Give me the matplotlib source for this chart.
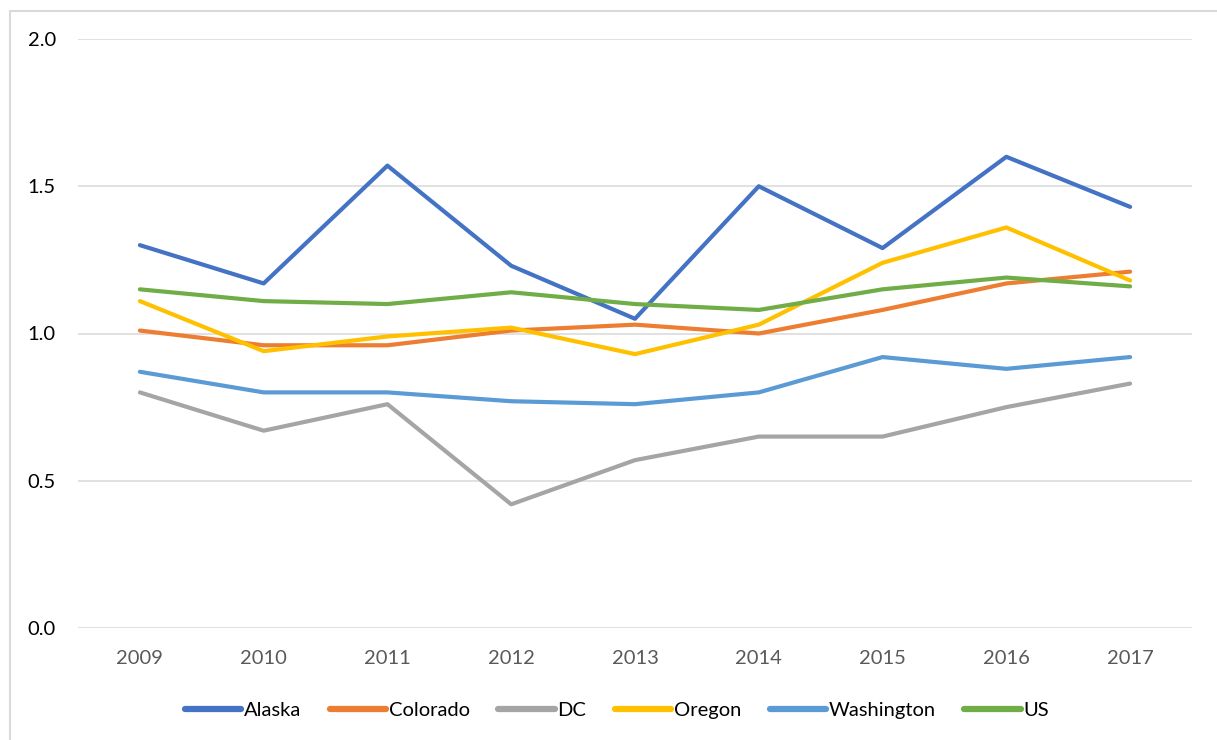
from matplotlib import pyplot as plt
from matplotlib.patches import Rectangle

years = ['2009', '2010', '2011', '2012', '2013', '2014', '2015', '2016', '2017']

alaska = [1.30, 1.17, 1.57, 1.23, 1.05, 1.50, 1.29, 1.60, 1.43]
colorado = [1.01, 0.96, 0.96, 1.01, 1.03, 1.00, 1.08, 1.17, 1.21]
dc = [0.80, 0.67, 0.76, 0.42, 0.57, 0.65, 0.65, 0.75, 0.83]
oregon = [1.11, 0.94, 0.99, 1.02, 0.93, 1.03, 1.24, 1.36, 1.18]
washington = [0.87, 0.80, 0.80, 0.77, 0.76, 0.80, 0.92, 0.88, 0.92]
us = [1.15, 1.11, 1.10, 1.14, 1.10, 1.08, 1.15, 1.19, 1.16]

series = [
    ('Alaska', alaska, '#4472C4'),
    ('Colorado', colorado, '#ED7D31'),
    ('DC', dc, '#A5A5A5'),
    ('Oregon', oregon, '#FFC000'),
    ('Washington', washington, '#5B9BD5'),
    ('US', us, '#70AD47'),
]

plt.rcParams['font.family'] = ['Lato', 'DejaVu Sans']

W, H = 1217, 740
fig = plt.figure(figsize=[W / 100, H / 100], dpi=100)

# chart area border (runs off the right and bottom edges)
fig.patches.append(Rectangle((10 / W, -0.05), 1.1, 1 - 11 / H + 0.05,
                             transform=fig.transFigure, fill=False,
                             edgecolor='#D9D9D9', linewidth=1.5))

ax = fig.add_axes([78 / W, 1 - 628 / H, (1192 - 78) / W, (628 - 39) / H])

x = list(range(len(years)))
for name, vals, color in series:
    ax.plot(x, vals, color=color, linewidth=3.0, label=name,
            solid_capstyle='round', solid_joinstyle='round', zorder=3)

ax.set_xlim(-0.5, len(years) - 0.5)
ax.set_ylim(0, 2.0)
ax.set_yticks([0.0, 0.5, 1.0, 1.5, 2.0])
ax.yaxis.set_major_formatter('{x:.1f}')
ax.set_xticks(x)
ax.set_xticklabels(years)
ax.grid(axis='y', color='#D9D9D9', linewidth=1.1)
ax.set_axisbelow(True)
for side in ['top', 'right', 'left', 'bottom']:
    ax.spines[side].set_visible(False)
ax.tick_params(axis='both', length=0, labelsize=14.5)
ax.tick_params(axis='x', colors='#595959', pad=16)
ax.tick_params(axis='y', labelcolor='black', pad=16)

leg = fig.legend(loc='center', bbox_to_anchor=(617 / W, 1 - 710 / H),
                 ncol=6, frameon=False, fontsize=14.5, handlelength=2.8,
                 handletextpad=0.15, columnspacing=1.4)
for line in leg.get_lines():
    line.set_linewidth(4.5)

plt.savefig('out.png', dpi=100)
